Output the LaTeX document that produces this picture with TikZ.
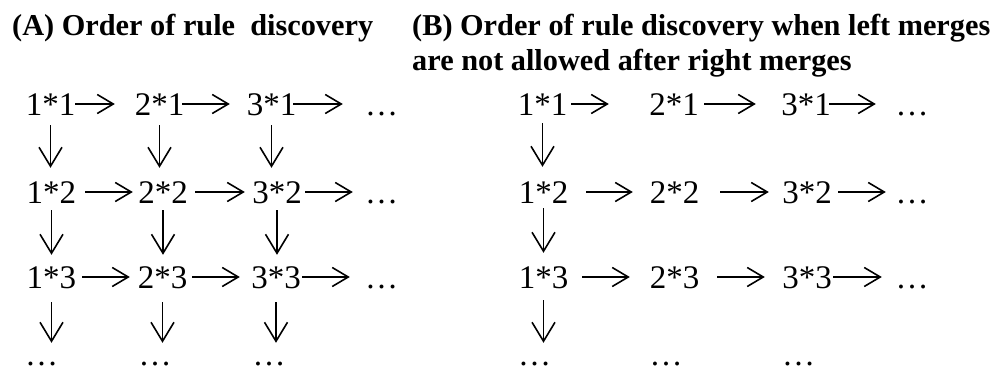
\documentclass[tikz,border=0pt]{standalone}
\usepackage{fontspec}
\setmainfont{Liberation Serif}
\usetikzlibrary{arrows.meta}
\begin{document}
\begin{tikzpicture}[x=1pt,y=-1pt,
  cell/.style={inner sep=0pt, anchor=base, text height=22pt, text depth=0pt, font=\fontsize{33}{38}\selectfont},
  ttl/.style={inner sep=0pt, anchor=base west, font=\fontsize{30.3}{35}\selectfont\bfseries},
  arr/.style={line width=1.6pt, -{Straight Barb[length=16pt,width=19pt]}},
  varr/.style={line width=1.6pt, -{Straight Barb[length=19pt,width=23pt]}}]
\useasboundingbox (0,0) rectangle (996,372);
% titles
\node[ttl] (ta) at (12,35) {(A) Order of rule\ \ discovery};
\node[ttl] (tb1) at (412,35) {(B) Order of rule discovery when left merges};
\node[ttl] (tb2) at (412,70) {are not allowed after right merges};
% grid A
\node[cell] (a11) at (50.5,115) {1*1};
\node[cell] (a21) at (159.5,115) {2*1};
\node[cell] (a31) at (271.5,115) {3*1};
\node[cell] (a41) at (381.5,115) {\dots};
\node[cell] (a12) at (51.5,203) {1*2};
\node[cell] (a22) at (163,203) {2*2};
\node[cell] (a32) at (277,203) {3*2};
\node[cell] (a42) at (381.5,203) {\dots};
\node[cell] (a13) at (51.5,288) {1*3};
\node[cell] (a23) at (162.5,288) {2*3};
\node[cell] (a33) at (276,288) {3*3};
\node[cell] (a43) at (381.5,288) {\dots};
\node[cell] (a14) at (41.5,365) {\dots};
\node[cell] (a24) at (155,365) {\dots};
\node[cell] (a34) at (269,365) {\dots};
% A horizontal
\draw[arr, shorten <=0pt, shorten >=19.75pt] (a11) -- (a21);
\draw[arr, shorten <=-2pt, shorten >=16.75pt] (a21) -- (a31);
\draw[arr, shorten <=-3pt, shorten >=22pt] (a31) -- (a41);
\draw[arr, shorten <=8.75pt, shorten >=5.25pt] (a12) -- (a22);
\draw[arr, shorten <=7.25pt, shorten >=7.25pt] (a22) -- (a32);
\draw[arr, shorten <=3.25pt, shorten >=12pt] (a32) -- (a42);
\draw[arr, shorten <=5.75pt, shorten >=7.75pt] (a13) -- (a23);
\draw[arr, shorten <=4.75pt, shorten >=11.25pt] (a23) -- (a33);
\draw[arr, shorten <=1.25pt, shorten >=15pt] (a33) -- (a43);
% A vertical
\draw[varr, shorten <=10pt, shorten >=13pt] (a11.south) -- (a11.south |- a12.north);
\draw[varr, xshift=-1.5pt, shorten <=10pt, shorten >=13pt] (a21.south) -- (a21.south |- a22.north);
\draw[varr, xshift=4.5pt, shorten <=10pt, shorten >=13pt] (a31.south) -- (a31.south |- a32.north);
\draw[varr, xshift=-1.5pt, shorten <=7pt, shorten >=11pt] (a12.south) -- (a12.south |- a13.north);
\draw[varr, xshift=-5pt, shorten <=7pt, shorten >=11pt] (a22.south) -- (a22.south |- a23.north);
\draw[varr, xshift=-1pt, shorten <=7pt, shorten >=11pt] (a32.south) -- (a32.south |- a33.north);
\draw[varr, xshift=-1.5pt, shorten <=14pt, shorten >=0pt] (a13.south) -- (a13.south |- a14.north);
\draw[varr, xshift=-4.5pt, shorten <=14pt, shorten >=0pt] (a23.south) -- (a23.south |- a24.north);
\draw[varr, shorten <=14pt, shorten >=0pt] (a33.south) -- (a33.south |- a34.north);
% grid B
\node[cell] (b11) at (542.5,115) {1*1};
\node[cell] (b21) at (674,115) {2*1};
\node[cell] (b31) at (806,115) {3*1};
\node[cell] (b41) at (912,115) {\dots};
\node[cell] (b12) at (543.5,203) {1*2};
\node[cell] (b22) at (674.5,203) {2*2};
\node[cell] (b32) at (807,203) {3*2};
\node[cell] (b42) at (912,203) {\dots};
\node[cell] (b13) at (543.5,288) {1*3};
\node[cell] (b23) at (674.5,288) {2*3};
\node[cell] (b33) at (807,288) {3*3};
\node[cell] (b43) at (912,288) {\dots};
\node[cell] (b14) at (534.5,365) {\dots};
\node[cell] (b24) at (666,365) {\dots};
\node[cell] (b34) at (798.5,365) {\dots};
% B horizontal
\draw[arr, shorten <=3.75pt, shorten >=40.25pt] (b11) -- (b21);
\draw[arr, shorten <=5.25pt, shorten >=25.25pt] (b21) -- (b31);
\draw[arr, shorten <=-1.75pt, shorten >=19.5pt] (b31) -- (b41);
\draw[arr, shorten <=17.75pt, shorten >=16.75pt] (b12) -- (b22);
\draw[arr, shorten <=20.75pt, shorten >=13.25pt] (b22) -- (b32);
\draw[arr, shorten <=6.25pt, shorten >=9.5pt] (b32) -- (b42);
\draw[arr, shorten <=13.75pt, shorten >=19.75pt] (b13) -- (b23);
\draw[arr, shorten <=17.75pt, shorten >=17.25pt] (b23) -- (b33);
\draw[arr, shorten <=1.25pt, shorten >=13.5pt] (b33) -- (b43);
% B vertical
\draw[varr, xshift=-3.5pt, shorten <=8pt, shorten >=14pt] (b11.south) -- (b11.south |- b12.north);
\draw[varr, xshift=-4.5pt, shorten <=5pt, shorten >=13pt] (b12.south) -- (b12.south |- b13.north);
\draw[varr, xshift=-4.5pt, shorten <=12pt, shorten >=0pt] (b13.south) -- (b13.south |- b14.north);
\end{tikzpicture}
\end{document}
